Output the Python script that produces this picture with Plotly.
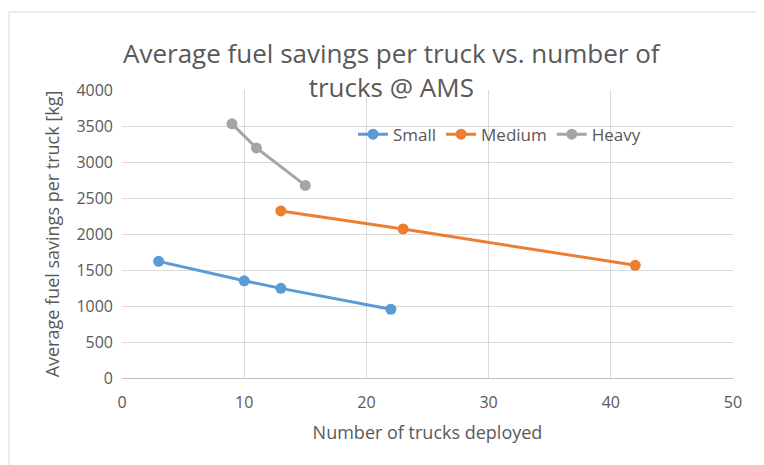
import plotly.graph_objects as go

small_x = [3, 10, 13, 22]
small_y = [1620, 1350, 1245, 955]
medium_x = [13, 23, 42]
medium_y = [2320, 2070, 1565]
heavy_x = [9, 11, 15]
heavy_y = [3530, 3195, 2675]

series = [
    ("Small", small_x, small_y, "#5b9bd5"),
    ("Medium", medium_x, medium_y, "#ed7d31"),
    ("Heavy", heavy_x, heavy_y, "#a5a5a5"),
]

fig = go.Figure()
for name, xs, ys, col in series:
    fig.add_trace(go.Scatter(x=xs, y=ys, name=name, mode="lines+markers",
                             line=dict(color=col, width=3),
                             marker=dict(color=col, size=11)))

font_family = "Open Sans, Liberation Sans, sans-serif"
fig.update_layout(
    width=756, height=457,
    margin=dict(l=114, r=31, t=82, b=87),
    paper_bgcolor="white", plot_bgcolor="white",
    font=dict(family=font_family, color="#595959", size=16),
    showlegend=True,
    legend=dict(orientation="h", x=0.378, y=0.845, xanchor="left", yanchor="middle",
                font=dict(size=17, color="#595959"), bgcolor="rgba(0,0,0,0)",
                tracegroupgap=0),
    shapes=[dict(type="rect", xref="paper", yref="paper", x0=-0.185, x1=1.1, y0=-0.4, y1=1.271,
                 line=dict(color="#d9d9d9", width=1))],
    annotations=[dict(text="Average fuel savings per truck vs. number of<br>trucks @ AMS",
                      xref="paper", yref="paper", x=0.442, y=1.07, xanchor="center", yanchor="middle",
                      showarrow=False, font=dict(size=26, color="#595959"))],
)
fig.update_xaxes(range=[0, 50], dtick=10, showgrid=True, gridcolor="#d9d9d9", gridwidth=1,
                 showline=True, linecolor="#bfbfbf", zeroline=False,
                 ticks="", tickfont=dict(size=16), ticklabelstandoff=10,
                 title=dict(text="Number of trucks deployed", font=dict(size=18), standoff=14))
fig.update_yaxes(range=[0, 4000], dtick=500, showgrid=True, gridcolor="#d9d9d9", gridwidth=1,
                 showline=False, zeroline=False, ticks="", tickfont=dict(size=16), ticklabelstandoff=8,
                 title=dict(text="Average fuel savings per truck [kg]", font=dict(size=18), standoff=12))

fig.write_html("out.html")
